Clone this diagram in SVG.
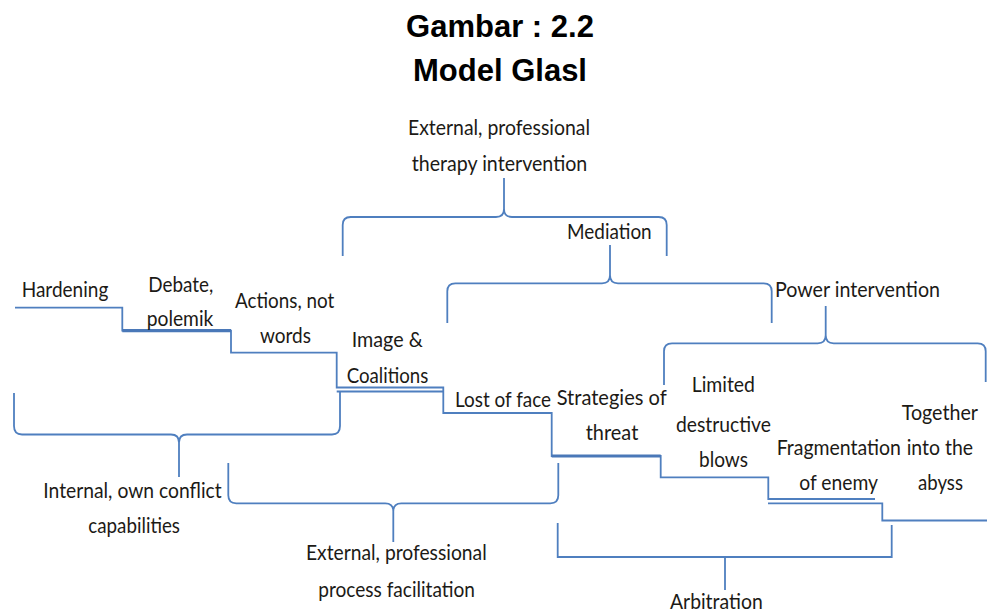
<svg xmlns="http://www.w3.org/2000/svg" width="987" height="612" viewBox="0 0 987 612">
<style>
.t{font-family:Lato,"Liberation Sans",sans-serif;font-size:21px;fill:#1c1a16}
.h{font-family:"Liberation Sans",Arial,sans-serif;font-size:31px;font-weight:bold;fill:#000;text-anchor:middle}
.l{fill:none;stroke:#4f7fbf;stroke-width:1.8}
.k{fill:none;stroke:#4a78b8;stroke-width:3.2}
</style>
<rect width="987" height="612" fill="#fff"/>
<g id="title">
<text class="h" x="500" y="37">Gambar : 2.2</text>
<text class="h" x="500" y="81">Model Glasl</text>
</g>
<g id="connectors">
<path class="l" d="M15 307.7H122.3V330.7H231V352.7H336.7V387.5H443.3V413H551.7V456H660.7V477.3H768.3V499H875"/>
<path class="l" d="M336.7 391.5H443"/>
<path class="l" d="M768 503.3H882.3V520.5H987"/>
<path class="k" d="M122.3 330.7H231"/>
<path class="k" d="M551.7 456H660.7"/>
<path class="l" d="M342.7 256V225Q342.7 217 350.7 217H496Q504 217 504 209V178M504 209Q504 217 512 217H658.7Q666.7 217 666.7 225V256"/>
<path class="l" d="M447.3 323V291.3Q447.3 283.3 455.3 283.3H602Q610 283.3 610 275.3V245M610 275.3Q610 283.3 618 283.3H763.7Q771.7 283.3 771.7 291.3V323"/>
<path class="l" d="M664 385V351.3Q664 343.3 672 343.3H817.7Q825.7 343.3 825.7 335.3V306M825.7 335.3Q825.7 343.3 833.7 343.3H977.7Q985.7 343.3 985.7 351.3V382"/>
<path class="l" d="M14 393V426Q14 434.5 22 434.5H171Q179 434.5 179 442.5V477M179 442.5Q179 434.5 187 434.5H332Q340 434.5 340 426V392"/>
<path class="l" d="M228.3 463V495.3Q228.3 503.3 236.3 503.3H385.3Q393.3 503.3 393.3 511.3V542M393.3 511.3Q393.3 503.3 401.3 503.3H550.3Q558.3 503.3 558.3 495.3V463"/>
<path class="l" d="M557.7 523V557H891.7V525M725 557V590"/>
</g>
<g id="n-hardening"><text class="t" x="21.7" y="297.3" textLength="86.6" lengthAdjust="spacingAndGlyphs">Hardening</text></g>
<g id="n-debate"><text class="t" x="148.3" y="291.7" textLength="65" lengthAdjust="spacingAndGlyphs">Debate,</text><text class="t" x="146.7" y="326" textLength="66.6" lengthAdjust="spacingAndGlyphs">polemik</text></g>
<g id="n-actions"><text class="t" x="235" y="308.3" textLength="99.3" lengthAdjust="spacingAndGlyphs">Actions, not</text><text class="t" x="260" y="343.3" textLength="51" lengthAdjust="spacingAndGlyphs">words</text></g>
<g id="n-image"><text class="t" x="351.7" y="346.7" textLength="71" lengthAdjust="spacingAndGlyphs">Image &amp;</text><text class="t" x="346.7" y="382.7" textLength="81.6" lengthAdjust="spacingAndGlyphs">Coalitions</text></g>
<g id="n-lostface"><text class="t" x="455" y="406.7" textLength="96" lengthAdjust="spacingAndGlyphs">Lost of face</text></g>
<g id="n-strategies"><text class="t" x="556.7" y="405" textLength="110" lengthAdjust="spacingAndGlyphs">Strategies of</text><text class="t" x="585.7" y="440" textLength="52.6" lengthAdjust="spacingAndGlyphs">threat</text></g>
<g id="n-limited"><text class="t" x="691.7" y="391.7" textLength="63.3" lengthAdjust="spacingAndGlyphs">Limited</text><text class="t" x="676" y="431.7" textLength="95" lengthAdjust="spacingAndGlyphs">destructive</text><text class="t" x="699" y="467.3" textLength="49" lengthAdjust="spacingAndGlyphs">blows</text></g>
<g id="n-fragmentation"><text class="t" x="776.7" y="455" textLength="124.3" lengthAdjust="spacingAndGlyphs">Fragmentation</text><text class="t" x="799.3" y="490" textLength="78.7" lengthAdjust="spacingAndGlyphs">of enemy</text></g>
<g id="n-together"><text class="t" x="901.7" y="420" textLength="76.3" lengthAdjust="spacingAndGlyphs">Together</text><text class="t" x="906.7" y="455" textLength="66.3" lengthAdjust="spacingAndGlyphs">into the</text><text class="t" x="918" y="490" textLength="45" lengthAdjust="spacingAndGlyphs">abyss</text></g>
<g id="n-therapy"><text class="t" x="408" y="135" textLength="182" lengthAdjust="spacingAndGlyphs">External, professional</text><text class="t" x="411.7" y="170.7" textLength="175.6" lengthAdjust="spacingAndGlyphs">therapy intervention</text></g>
<g id="n-mediation"><text class="t" x="567" y="239" textLength="84.7" lengthAdjust="spacingAndGlyphs">Mediation</text></g>
<g id="n-power"><text class="t" x="775" y="297.3" textLength="165" lengthAdjust="spacingAndGlyphs">Power intervention</text></g>
<g id="n-internal"><text class="t" x="43.3" y="498.3" textLength="178.4" lengthAdjust="spacingAndGlyphs">Internal, own conflict</text><text class="t" x="88.3" y="533.3" textLength="91.7" lengthAdjust="spacingAndGlyphs">capabilities</text></g>
<g id="n-process"><text class="t" x="306" y="560" textLength="180.7" lengthAdjust="spacingAndGlyphs">External, professional</text><text class="t" x="318.3" y="596.7" textLength="156.7" lengthAdjust="spacingAndGlyphs">process facilitation</text></g>
<g id="n-arbitration"><text class="t" x="670" y="609" textLength="92.7" lengthAdjust="spacingAndGlyphs">Arbitration</text></g>
</svg>
